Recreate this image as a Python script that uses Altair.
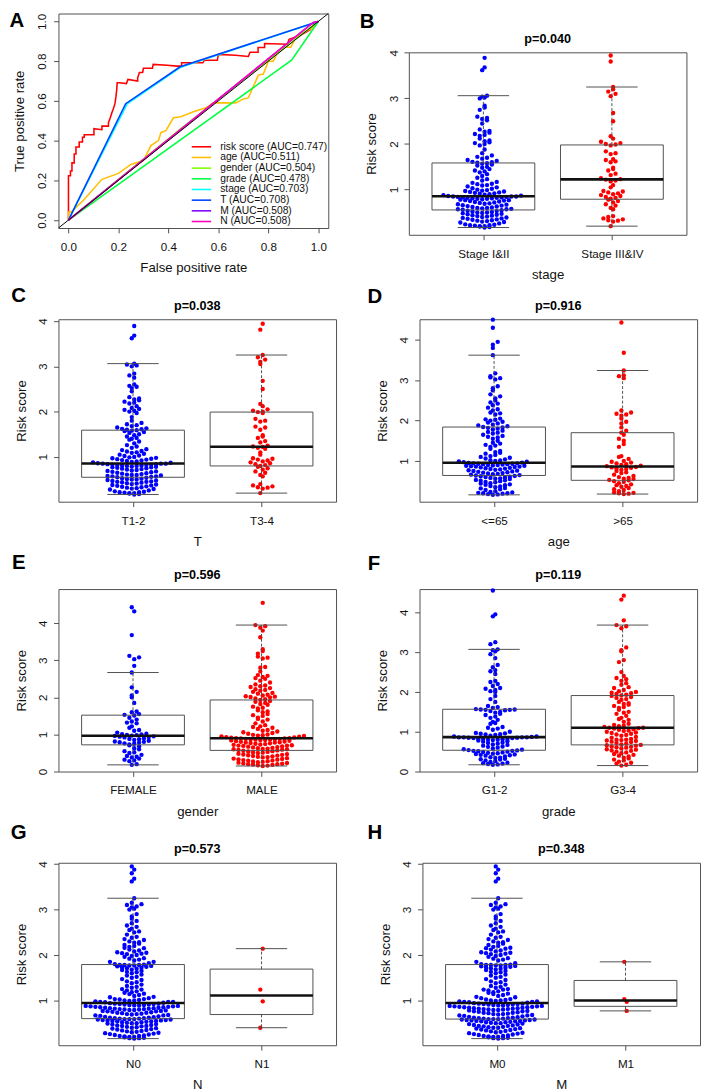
import altair as alt
import pandas as pd

# ---------------- Panel A : ROC curves ----------------
roc_names = ["risk score (AUC=0.747)", "age (AUC=0.511)", "gender (AUC=0.504)",
             "grade (AUC=0.478)", "stage (AUC=0.703)", "T (AUC=0.708)",
             "M (AUC=0.508)", "N (AUC=0.508)"]
roc_colors = ["#FF0000", "#FFBF00", "#80FF00", "#00FF40", "#00FFFF", "#0040FF", "#8000FF", "#FF00BF"]

risk_fpr = [0, 0, 0.008, 0.008, 0.014, 0.014, 0.023, 0.023, 0.030, 0.030, 0.043, 0.043, 0.056, 0.056,
            0.063, 0.063, 0.089, 0.102, 0.102, 0.134, 0.134, 0.160, 0.160, 0.167, 0.173, 0.180, 0.186,
            0.190, 0.193, 0.195, 0.206, 0.232, 0.238, 0.277, 0.277, 0.284, 0.297, 0.300, 0.336, 0.339,
            0.395, 0.434, 0.453, 0.453, 0.538, 0.544, 0.596, 0.600, 0.668, 0.720, 0.727, 0.759, 0.759,
            0.785, 0.785, 0.876, 0.883, 0.928, 0.967, 0.980, 1.0]
risk_tpr = [0, 0.223, 0.223, 0.247, 0.247, 0.288, 0.288, 0.333, 0.333, 0.368, 0.368, 0.393, 0.393, 0.417,
            0.417, 0.430, 0.430, 0.430, 0.460, 0.455, 0.473, 0.473, 0.490, 0.514, 0.538, 0.562, 0.586,
            0.620, 0.656, 0.691, 0.691, 0.687, 0.708, 0.700, 0.716, 0.743, 0.743, 0.764, 0.764, 0.784,
            0.780, 0.775, 0.775, 0.792, 0.792, 0.805, 0.805, 0.834, 0.830, 0.824, 0.845, 0.845, 0.869,
            0.869, 0.889, 0.885, 0.910, 0.930, 0.958, 0.982, 1.0]
age_fpr = [0, 0, 0.01, 0.06, 0.134, 0.2, 0.25, 0.3, 0.33, 0.36, 0.37, 0.39, 0.42, 0.45, 0.5, 0.55,
           0.58, 0.67, 0.7, 0.72, 0.76, 0.78, 0.8, 0.82, 0.84, 0.86, 0.89, 0.91, 0.95, 0.98, 1]
age_tpr = [0, 0.04, 0.04, 0.1, 0.205, 0.235, 0.28, 0.30, 0.375, 0.40, 0.44, 0.45, 0.515, 0.52, 0.545,
           0.565, 0.59, 0.59, 0.61, 0.615, 0.73, 0.735, 0.80, 0.80, 0.85, 0.87, 0.87, 0.92, 0.95, 0.97, 1]
gender_fpr = [0, 0.45, 1]
gender_tpr = [0, 0.46, 1]
grade_fpr = [0, 0.893, 1]
grade_tpr = [0, 0.805, 1]
stage_fpr = [0, 0.235, 0.45, 1]
stage_tpr = [0, 0.585, 0.77, 1]
t_fpr = [0, 0.229, 0.447, 1]
t_tpr = [0, 0.586, 0.772, 1]
m_fpr = [0, 0.98, 1]
m_tpr = [0, 0.995, 1]
n_fpr = [0, 0.98, 1]
n_tpr = [0, 0.995, 1]
diag_x = [-0.04, 1.04]
diag_y = [-0.04, 1.04]

# ---------------- Panels B-H : risk scores per group ----------------
stage12 = [0.17, 0.18, 0.19, 0.2, 0.2, 0.21, 0.22, 0.22, 0.23, 0.24, 0.26, 0.28, 0.29, 0.3, 0.31, 0.32,
           0.33, 0.34, 0.35, 0.36, 0.37, 0.38, 0.39, 0.4, 0.41, 0.42, 0.43, 0.44, 0.45, 0.46, 0.47, 0.48,
           0.49, 0.5, 0.5, 0.51, 0.52, 0.53, 0.54, 0.55,
           0.56, 0.57, 0.57, 0.58, 0.59, 0.6, 0.6, 0.61, 0.62, 0.63, 0.64, 0.65, 0.66, 0.67, 0.68, 0.69,
           0.7, 0.71, 0.72, 0.73, 0.74, 0.75, 0.76, 0.77, 0.77, 0.78, 0.79, 0.8, 0.8, 0.81, 0.81, 0.82,
           0.82, 0.83, 0.83, 0.84, 0.84, 0.85, 0.85, 0.85,
           0.86, 0.87, 0.88, 0.89, 0.9, 0.91, 0.92, 0.93, 0.94, 0.95, 0.96, 0.97, 0.98, 0.99, 1.0, 1.02,
           1.03, 1.05, 1.07, 1.09, 1.1, 1.12, 1.13, 1.15, 1.17, 1.2, 1.23, 1.26, 1.3, 1.34, 1.38, 1.4,
           1.42, 1.45, 1.48, 1.5, 1.53, 1.55, 1.57, 1.58,
           1.59, 1.6, 1.61, 1.63, 1.65, 1.68, 1.7, 1.72, 1.8, 1.88, 1.97, 2.0, 2.02, 2.04, 2.06, 2.08,
           2.18, 2.2, 2.22, 2.25, 2.27, 2.29, 2.32, 2.45, 2.52, 2.55, 2.57, 2.6, 2.75, 2.8, 2.84, 3.0,
           3.02, 3.04, 3.06, 3.62, 3.68, 3.89, 1.75, 2.12]
stage34 = [0.2, 0.3, 0.32, 0.33, 0.35, 0.37, 0.4, 0.42, 0.57, 0.6, 0.65, 0.68, 0.72, 0.75, 0.78,
           0.8, 0.82, 0.84, 0.86, 0.88, 0.9, 0.92, 0.94, 0.96, 0.97, 1.05, 1.1, 1.18, 1.2, 1.22,
           1.23, 1.25, 1.32, 1.35, 1.42, 1.45, 1.48, 1.6, 1.62, 1.65, 1.67, 1.78, 1.8, 1.84, 1.97,
           1.99, 2.02, 2.05, 2.12, 2.17, 2.5, 2.68, 3.05, 3.1, 3.15, 3.2, 3.25, 3.81, 3.94, 2.0]
t12 = stage12 + [0.45, 1.62]
t34 = [0.2, 0.3, 0.32, 0.33, 0.35, 0.37, 0.4, 0.57, 0.6, 0.65, 0.68, 0.72, 0.75, 0.78,
       0.8, 0.82, 0.84, 0.86, 0.88, 0.9, 0.92, 0.94, 0.96, 0.97, 1.05, 1.1, 1.18, 1.2, 1.22,
       1.23, 1.25, 1.32, 1.35, 1.42, 1.45, 1.48, 1.6, 1.65, 1.67, 1.78, 1.8, 1.84, 1.97,
       1.99, 2.02, 2.05, 2.12, 2.17, 2.5, 2.68, 3.05, 3.1, 3.15, 3.2, 3.25, 3.81, 3.94, 2.0]
age_le65 = [0.16, 0.17, 0.18, 0.19, 0.2, 0.2, 0.21, 0.22, 0.23, 0.25, 0.28, 0.3, 0.32, 0.33, 0.35, 0.37,
            0.38, 0.4, 0.41, 0.42, 0.44, 0.45, 0.47, 0.48, 0.5, 0.51, 0.52, 0.53, 0.55, 0.56, 0.57, 0.58,
            0.59, 0.6, 0.61, 0.62, 0.63, 0.64,
            0.65, 0.66, 0.67, 0.68, 0.69, 0.7, 0.71, 0.72, 0.73, 0.74, 0.75, 0.76, 0.77, 0.78, 0.79, 0.8,
            0.81, 0.82, 0.83, 0.84, 0.85, 0.86, 0.86, 0.87, 0.88, 0.88, 0.89, 0.9, 0.9, 0.91, 0.92, 0.92,
            0.93, 0.93, 0.94, 0.94, 0.95,
            0.96, 0.97, 0.98, 0.99, 1.0, 1.01, 1.02, 1.04, 1.06, 1.08, 1.1, 1.12, 1.15, 1.18, 1.2, 1.22,
            1.25, 1.3, 1.35, 1.38, 1.4, 1.43, 1.45, 1.5, 1.55, 1.58, 1.6, 1.62, 1.65, 1.68, 1.7, 1.72,
            1.75, 1.78, 1.8, 1.82, 1.83, 1.84,
            1.86, 1.9, 1.93, 1.95, 1.97, 2.0, 2.02, 2.03, 2.05, 2.15, 2.2, 2.25, 2.28, 2.32, 2.38, 2.45,
            2.5, 2.55, 2.6, 2.65, 2.75, 2.8, 2.85, 3.02, 3.05, 3.07, 3.1, 3.17, 3.62, 3.8, 3.88, 3.95,
            4.3, 4.5, 2.18, 2.42, 1.88]
age_gt65 = [0.18, 0.19, 0.2, 0.21, 0.22, 0.25, 0.28, 0.3, 0.33, 0.36, 0.38, 0.4, 0.42, 0.45, 0.48, 0.5, 0.52,
            0.53, 0.55, 0.56, 0.58, 0.6, 0.63, 0.66, 0.7, 0.72, 0.75, 0.78, 0.8, 0.82, 0.83, 0.84, 0.85,
            0.87, 0.88, 0.9, 0.92, 0.94, 0.96, 0.98, 1.0, 1.05, 1.1, 1.12, 1.35, 1.42, 1.5, 1.55, 1.65, 1.7,
            1.75, 1.83, 1.93, 1.97, 2.05, 2.12, 2.15, 2.17, 2.2, 2.25, 3.05, 3.1, 3.12, 3.24, 3.68, 4.43]
female = [0.18, 0.2, 0.28, 0.3, 0.32, 0.35, 0.38, 0.4, 0.42, 0.45, 0.5, 0.52, 0.55, 0.6, 0.63, 0.68, 0.71,
          0.73, 0.75, 0.76, 0.78, 0.79, 0.8, 0.81, 0.83, 0.85, 0.87, 0.88, 0.9, 0.92, 0.93, 0.94, 0.95, 0.96,
          0.97, 0.98, 0.99, 1.0, 1.01, 1.02, 1.05, 1.1, 1.12, 1.18, 1.22, 1.3, 1.32, 1.35, 1.4, 1.45, 1.51,
          1.53, 1.55, 1.6, 1.62, 1.85, 2.0, 2.05, 2.15, 2.27, 2.67, 2.85, 3.03, 3.08, 3.12, 3.68, 4.32, 4.43]
male = [0.15, 0.16, 0.17, 0.18, 0.19, 0.2, 0.2, 0.21, 0.22, 0.23, 0.24, 0.25, 0.26, 0.27, 0.28, 0.29, 0.3,
        0.31, 0.32, 0.33, 0.34, 0.35, 0.36, 0.38, 0.39, 0.4, 0.41, 0.42, 0.43, 0.44, 0.45, 0.46, 0.47, 0.48,
        0.5, 0.51, 0.52, 0.53, 0.54, 0.55, 0.56, 0.57,
        0.58, 0.59, 0.6, 0.6, 0.61, 0.62, 0.63, 0.64, 0.65, 0.66, 0.67, 0.68, 0.69, 0.7, 0.7, 0.71, 0.72,
        0.73, 0.74, 0.75, 0.76, 0.77, 0.78, 0.78, 0.79, 0.8, 0.81, 0.82, 0.83, 0.84, 0.85, 0.85, 0.86, 0.86,
        0.87, 0.87, 0.88, 0.88, 0.89, 0.89, 0.9,
        0.9, 0.91, 0.92, 0.93, 0.94, 0.95, 0.96, 0.97, 0.98, 0.99, 1.0, 1.02, 1.04, 1.06, 1.08, 1.1, 1.12,
        1.15, 1.18, 1.2, 1.22, 1.25, 1.3, 1.35, 1.4, 1.42, 1.45, 1.5, 1.52, 1.55, 1.6, 1.62, 1.65, 1.7,
        1.72, 1.75, 1.8, 1.82, 1.85, 1.88, 1.9, 1.93,
        1.95, 1.97, 2.0, 2.01, 2.02, 2.03, 2.05, 2.07, 2.1, 2.12, 2.15, 2.18, 2.2, 2.22, 2.25, 2.28, 2.3,
        2.35, 2.4, 2.45, 2.5, 2.52, 2.55, 2.58, 2.7, 2.8, 2.82, 3.05, 3.07, 3.1, 3.18, 3.25, 3.3, 3.62,
        3.8, 3.88, 3.92, 3.95, 4.55, 2.32, 2.6]
grade12 = [0.17, 0.18, 0.19, 0.2, 0.21, 0.22, 0.24, 0.26, 0.28, 0.3, 0.31, 0.32, 0.34, 0.35, 0.36, 0.38,
           0.4, 0.41, 0.42, 0.43, 0.44, 0.45, 0.46, 0.47, 0.48, 0.49, 0.5, 0.51, 0.52, 0.52, 0.53,
           0.54, 0.55, 0.56, 0.58, 0.6, 0.62, 0.63, 0.65, 0.67, 0.68, 0.7, 0.72, 0.73, 0.75, 0.76, 0.78,
           0.79, 0.8, 0.8, 0.81, 0.82, 0.82, 0.83, 0.84, 0.84, 0.85, 0.85, 0.86, 0.86, 0.86, 0.86,
           0.87, 0.88, 0.88, 0.9, 0.92, 0.93, 0.94, 0.95, 0.96, 0.97, 1.0, 1.05, 1.08, 1.1, 1.12, 1.2,
           1.22, 1.25, 1.3, 1.35, 1.38, 1.42, 1.45, 1.48, 1.5, 1.52, 1.54, 1.55, 1.55, 1.56, 1.56,
           1.57, 1.6, 1.62, 1.75, 1.82, 1.9, 2.02, 2.05, 2.08, 2.1, 2.15, 2.2, 2.25, 2.28, 2.45, 2.52,
           2.55, 2.62, 2.68, 2.85, 2.95, 3.02, 3.05, 3.07, 3.2, 3.25, 3.9, 3.95, 4.55, 1.65, 2.0]
grade34 = [0.15, 0.17, 0.2, 0.22, 0.25, 0.28, 0.3, 0.33, 0.35, 0.38, 0.4, 0.42, 0.44, 0.46, 0.48, 0.5,
           0.52, 0.53, 0.55, 0.56, 0.58, 0.6, 0.61, 0.62, 0.63, 0.65, 0.66, 0.67,
           0.68, 0.7, 0.72, 0.74, 0.75, 0.77, 0.78, 0.79, 0.8, 0.8, 0.82, 0.85, 0.87, 0.9, 0.92, 0.93,
           0.95, 0.97, 0.98, 1.0, 1.02, 1.03, 1.05, 1.06, 1.08, 1.09, 1.1,
           1.1, 1.12, 1.14, 1.15, 1.17, 1.2, 1.25, 1.3, 1.32, 1.35, 1.4, 1.45, 1.48, 1.5, 1.55, 1.6,
           1.62, 1.65, 1.68, 1.7, 1.72, 1.75, 1.8, 1.82, 1.85, 1.87, 1.9, 1.91,
           1.93, 1.95, 1.97, 2.0, 2.02, 2.05, 2.1, 2.18, 2.22, 2.28, 2.32, 2.35, 2.5, 2.75, 2.8, 3.02,
           3.05, 3.12, 3.6, 3.65, 3.68, 3.8, 4.32, 4.42, 2.12, 2.4, 1.98]
nm_common = [0.16, 0.17, 0.17, 0.18, 0.19, 0.2, 0.2, 0.21, 0.22, 0.22, 0.23, 0.24, 0.25, 0.26, 0.27, 0.28,
             0.29, 0.3, 0.31, 0.32, 0.33, 0.34, 0.35, 0.36, 0.37, 0.38, 0.39, 0.4, 0.41, 0.42, 0.43, 0.44,
             0.44, 0.45, 0.46, 0.47, 0.48, 0.49, 0.5, 0.5, 0.51, 0.52, 0.52, 0.53, 0.54, 0.54, 0.55, 0.55,
             0.56, 0.56, 0.57, 0.57, 0.58, 0.58, 0.59, 0.59, 0.59,
             0.6, 0.6, 0.61, 0.61, 0.62, 0.62, 0.63, 0.64, 0.65, 0.66, 0.67, 0.67, 0.68, 0.69, 0.7, 0.7,
             0.71, 0.72, 0.73, 0.73, 0.74, 0.75, 0.76, 0.76, 0.77, 0.78, 0.79, 0.79, 0.8, 0.8, 0.81, 0.81,
             0.82, 0.82, 0.83, 0.83, 0.84, 0.84, 0.85, 0.85, 0.86, 0.86, 0.87, 0.87, 0.88, 0.88, 0.89,
             0.89, 0.9, 0.9, 0.91, 0.91, 0.92, 0.92, 0.93, 0.93,
             0.94, 0.95, 0.96, 0.97, 0.97, 0.98, 0.99, 1.0, 1.0, 1.01, 1.02, 1.03, 1.05, 1.07, 1.08, 1.1,
             1.12, 1.14, 1.15, 1.17, 1.18, 1.2, 1.22, 1.24, 1.25, 1.28, 1.3, 1.32, 1.35, 1.38, 1.4, 1.42,
             1.45, 1.47, 1.5, 1.52, 1.55, 1.57, 1.6, 1.62, 1.63, 1.65, 1.67, 1.68, 1.7, 1.71, 1.72, 1.73,
             1.74, 1.75, 1.76, 1.77, 1.77, 1.78, 1.78, 1.78, 1.79,
             1.8, 1.82, 1.85, 1.88, 1.9, 1.93, 1.96, 1.98, 2.0, 2.02, 2.03, 2.04, 2.05, 2.08, 2.1, 2.12,
             2.15, 2.18, 2.2, 2.22, 2.25, 2.27, 2.3, 2.33, 2.35, 2.4, 2.45, 2.5, 2.55, 2.58, 2.62, 2.7,
             2.75, 2.8, 2.85, 3.02, 3.05, 3.07, 3.1, 3.12, 3.15, 3.25, 3.62, 3.68, 3.8, 3.88, 3.95,
             2.28, 2.38, 2.52, 1.92, 2.06, 2.16, 2.65, 3.0, 2.9]
n1 = [2.14, 1.24, 0.98, 0.40]
m1 = [1.85, 1.03, 0.97, 0.77]
n0 = nm_common + m1
m0 = nm_common + n1

FONT = "Liberation Sans"
LINE = "#4d4d4d"


def letter_layer(letter, lx, ly):
    return alt.Chart(pd.DataFrame({"t": [letter]})).mark_text(
        fontSize=21, fontWeight="bold", align="center", baseline="middle", font=FONT, color="black"
    ).encode(text="t:N", x=alt.value(lx), y=alt.value(ly))


# ---------------- Panel A ----------------
roc_fprs = [risk_fpr, age_fpr, gender_fpr, grade_fpr, stage_fpr, t_fpr, m_fpr, n_fpr]
roc_tprs = [risk_tpr, age_tpr, gender_tpr, grade_tpr, stage_tpr, t_tpr, m_tpr, n_tpr]
rows = []
for k, (name, fx, fy) in enumerate(zip(roc_names, roc_fprs, roc_tprs)):
    for i, (a, b) in enumerate(zip(fx, fy)):
        rows.append({"name": name, "k": k, "i": i, "fpr": a, "tpr": b})
roc_df = pd.DataFrame(rows)

AW, AH = 278, 221
sa = alt.Scale(domain=[-0.04, 1.04], nice=False, zero=False)
ax_ax = alt.Axis(values=[0, 0.2, 0.4, 0.6, 0.8, 1.0], format=".1f", title="False positive rate",
                 labelPadding=9, titlePadding=9)
ax_ay = alt.Axis(values=[0, 0.2, 0.4, 0.6, 0.8, 1.0], format=".1f", title="True positive rate",
                 labelAngle=-90, labelPadding=5, titlePadding=10)

diag = alt.Chart(pd.DataFrame({"fpr": diag_x, "tpr": diag_y})).mark_line(
    color="black", strokeWidth=1).encode(
    x=alt.X("fpr:Q", scale=sa, axis=ax_ax), y=alt.Y("tpr:Q", scale=sa, axis=ax_ay))

roc_lines = alt.Chart(roc_df).mark_line(strokeWidth=1.6).encode(
    x=alt.X("fpr:Q", scale=sa, axis=ax_ax),
    y=alt.Y("tpr:Q", scale=sa, axis=ax_ay),
    color=alt.Color("name:N", scale=alt.Scale(domain=roc_names, range=roc_colors),
                    sort=roc_names,
                    legend=alt.Legend(title=None, orient="none", legendX=142, legendY=132,
                                      symbolType="M-2.5,0H2.5", symbolSize=64, symbolStrokeWidth=1.6,
                                      labelFontSize=10.6, labelOffset=14, rowPadding=0, padding=0,
                                      labelFont=FONT, labelColor="#111")),
    order="i:Q",
)

panelA = alt.layer(roc_lines, diag, letter_layer("A", -43, 8)).properties(width=AW, height=AH)


# ---------------- Box + swarm panels ----------------
def box_panel(letter, pval, xtitle, labels, va, vb, ydom, yvals, lx, ly):
    W, H = 286, 188
    df = pd.DataFrame({"g": [1] * len(va) + [2] * len(vb), "v": list(va) + list(vb)})
    xs = alt.Scale(domain=[0.42, 2.58], nice=False, zero=False)
    ys = alt.Scale(domain=ydom, nice=False, zero=False)
    ax_x = alt.Axis(values=[1, 2], labelExpr=f"datum.value == 1 ? '{labels[0]}' : '{labels[1]}'",
                    title=xtitle, labelPadding=9, titlePadding=9)
    ax_y = alt.Axis(values=yvals, format="d", title="Risk score", labelAngle=-90,
                    labelPadding=4, titlePadding=9)
    ppu = H / (ydom[1] - ydom[0])
    binsize = 4.6 / ppu
    dx = 5.0 * (2.58 - 0.42) / W

    base = alt.Chart(df)
    pts = (base
           .transform_calculate(b=f"floor(datum.v / {binsize:.5f})")
           .transform_window(k="row_number()", groupby=["g", "b"], sort=[alt.SortField("v")])
           .transform_joinaggregate(m="count()", groupby=["g", "b"])
           .transform_calculate(c="datum.k - 1")
           .transform_calculate(j="(datum.c % 2 == 1 ? (datum.c + 1) / 2 : -datum.c / 2)"
                                  " + (datum.m % 2 == 0 ? -0.5 : 0)"
                                  " + (datum.b % 2 == 1 ? 0.25 : -0.25)")
           .transform_calculate(px=f"datum.g + datum.j * {dx:.5f}")
           .mark_circle(size=20, opacity=1)
           .encode(x=alt.X("px:Q", scale=xs, axis=ax_x),
                   y=alt.Y("v:Q", scale=ys, axis=ax_y),
                   color=alt.condition("datum.g == 1", alt.value("#0000FF"), alt.value("#FF0000"))))

    stats = (base
             .transform_window(rank="row_number()", groupby=["g"], sort=[alt.SortField("v")])
             .transform_joinaggregate(n="count()", groupby=["g"])
             .transform_calculate(h="floor((datum.n + 3) / 2) / 2")
             .transform_calculate(
                 w1="(datum.rank == floor(datum.h) ? 0.5 : 0) + (datum.rank == ceil(datum.h) ? 0.5 : 0)")
             .transform_calculate(
                 w2="(datum.rank == floor((datum.n + 1) / 2) ? 0.5 : 0) + (datum.rank == ceil((datum.n + 1) / 2) ? 0.5 : 0)")
             .transform_calculate(
                 w3="(datum.rank == floor(datum.n + 1 - datum.h) ? 0.5 : 0) + (datum.rank == ceil(datum.n + 1 - datum.h) ? 0.5 : 0)")
             .transform_calculate(a1="datum.v * datum.w1")
             .transform_calculate(a2="datum.v * datum.w2")
             .transform_calculate(a3="datum.v * datum.w3")
             .transform_joinaggregate(q1="sum(a1)", med="sum(a2)", q3="sum(a3)", groupby=["g"])
             .transform_calculate(lo="datum.q1 - 1.5 * (datum.q3 - datum.q1)")
             .transform_calculate(hi="datum.q3 + 1.5 * (datum.q3 - datum.q1)")
             .transform_calculate(vlo="datum.v >= datum.lo ? datum.v : 1e9")
             .transform_calculate(vhi="datum.v <= datum.hi ? datum.v : -1e9")
             .transform_aggregate(q1="max(q1)", med="max(med)", q3="max(q3)",
                                  wlo="min(vlo)", whi="max(vhi)", groupby=["g"])
             .transform_calculate(x1="datum.g - 0.4")
             .transform_calculate(x2="datum.g + 0.4")
             .transform_calculate(c1="datum.g - 0.2")
             .transform_calculate(c2="datum.g + 0.2"))

    X = lambda f: alt.X(f, scale=xs, axis=ax_x)
    Y = lambda f: alt.Y(f, scale=ys, axis=ax_y)
    box = stats.mark_rect(fillOpacity=0, stroke=LINE, strokeWidth=1).encode(
        x=X("x1:Q"), x2="x2:Q", y=Y("q1:Q"), y2="q3:Q")
    wh_hi = stats.mark_rule(color=LINE, strokeWidth=1, strokeDash=[3, 2]).encode(
        x=X("g:Q"), y=Y("q3:Q"), y2="whi:Q")
    wh_lo = stats.mark_rule(color=LINE, strokeWidth=1, strokeDash=[3, 2]).encode(
        x=X("g:Q"), y=Y("q1:Q"), y2="wlo:Q")
    cap_hi = stats.mark_rule(color=LINE, strokeWidth=1).encode(x=X("c1:Q"), x2="c2:Q", y=Y("whi:Q"))
    cap_lo = stats.mark_rule(color=LINE, strokeWidth=1).encode(x=X("c1:Q"), x2="c2:Q", y=Y("wlo:Q"))
    med = stats.mark_rule(color="#111111", strokeWidth=2.6).encode(x=X("x1:Q"), x2="x2:Q", y=Y("med:Q"))

    ptxt = alt.Chart(pd.DataFrame({"t": [pval]})).mark_text(
        fontSize=13, fontWeight="bold", align="center", baseline="middle", font=FONT, color="black"
    ).encode(text="t:N", x=alt.value(W / 2), y=alt.value(-14))

    return alt.layer(pts, box, wh_hi, wh_lo, cap_hi, cap_lo, med,
                     letter_layer(letter, lx, ly), ptxt).properties(width=W, height=H)


panelB = box_panel("B", "p=0.040", "stage", ["Stage I&II", "Stage III&IV"], stage12, stage34,
                   [0.01, 4.01], [1, 2, 3, 4], -43, -31)
panelC = box_panel("C", "p=0.038", "T", ["T1-2", "T3-4"], t12, t34,
                   [0.01, 4.04], [1, 2, 3, 4], -41, -24)
panelD = box_panel("D", "p=0.916", "age", ["<=65", ">65"], age_le65, age_gt65,
                   [-0.01, 4.51], [1, 2, 3, 4], -46, -23)
panelE = box_panel("E", "p=0.596", "gender", ["FEMALE", "MALE"], female, male,
                   [0.0, 4.92], [0, 1, 2, 3, 4], -41, -27)
panelF = box_panel("F", "p=0.119", "grade", ["G1-2", "G3-4"], grade12, grade34,
                   [0.0, 4.585], [0, 1, 2, 3, 4], -47, -26)
panelG = box_panel("G", "p=0.573", "N", ["N0", "N1"], n0, n1,
                   [0.014, 4.03], [1, 2, 3, 4], -41, -31)
panelH = box_panel("H", "p=0.348", "M", ["M0", "M1"], m0, m1,
                   [0.014, 4.03], [1, 2, 3, 4], -49, -31)

# an invisible 1px strip above panel B lets its plot sit lower than panel A's
spacer = alt.Chart(pd.DataFrame({"a": [0]})).mark_point(opacity=0).encode(
    x=alt.value(0), y=alt.value(0)).properties(width=286, height=1,
                                               view=alt.ViewBackground(stroke="transparent"))

row1 = alt.hconcat(panelA, alt.vconcat(spacer, panelB, spacing=-7), spacing=28)
row2 = alt.hconcat(panelC, panelD, spacing=30)
row3 = alt.hconcat(panelE, panelF, spacing=31)
row4 = alt.hconcat(panelG, panelH, spacing=30)

chart = (alt.vconcat(row1, row2, row3, row4, spacing=2)
         .properties(padding={"left": 0, "top": -15, "right": 0, "bottom": 0})
         .configure(font=FONT)
         .configure_view(stroke=LINE, strokeWidth=1)
         .configure_axis(domain=False, grid=False, tickSize=5, tickColor=LINE, tickWidth=1,
                         labelFontSize=12, titleFontSize=13.6, titleFontWeight="normal",
                         labelColor="#111", titleColor="#111", labelFont=FONT, titleFont=FONT))

chart.save("out.html", embed_options={"renderer": "svg", "actions": False})
